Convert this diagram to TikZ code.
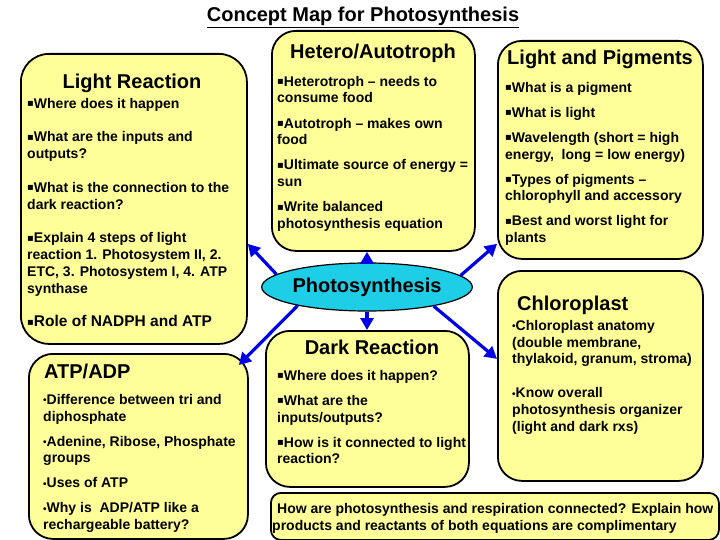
\documentclass[tikz,border=0pt]{standalone}
\usepackage{fontspec}
\setmainfont{Liberation Sans}
\newfontfamily\dvs{DejaVu Sans}
\usetikzlibrary{arrows.meta,shapes.geometric,calc}
\definecolor{boxyellow}{RGB}{255,255,153}
\definecolor{pscyan}{RGB}{30,205,230}
\definecolor{arrblue}{RGB}{0,0,230}
\newcommand\sqb{\raisebox{1.3pt}{\dvs\fontsize{10}{10}\selectfont ▪}}
\newcommand\dtb{\raisebox{0.3pt}{\fontsize{10}{10}\selectfont •}}
\tikzset{
  cbox/.style={draw=black, line width=1.8pt, fill=boxyellow, rounded corners=24pt, anchor=north west, inner sep=0pt},
  headtxt/.style={font=\bfseries\fontsize{20}{24}\selectfont, inner sep=0pt, anchor=base},
  bodytxt/.style={font=\bfseries\fontsize{14}{16.8}\selectfont, inner sep=0pt, anchor=north west, align=left},
  arr/.style={draw=arrblue, line width=3.2pt, -{Triangle[length=12pt,width=13pt]}}
}
\begin{document}
\begin{tikzpicture}[x=1pt,y=-1pt]
\useasboundingbox (0,0) rectangle (720,540);

% title
\node[inner sep=0pt, anchor=base, font=\bfseries\fontsize{20}{23}\selectfont] (title) at (363,22) {\underline{Concept Map for Photosynthesis}};

% boxes
\node[cbox, rounded corners=28pt, minimum width=226pt, minimum height=290pt] (lr) at (20,53) {};
\node[cbox, minimum width=203pt, minimum height=220pt] (ht) at (271,30) {};
\node[cbox, minimum width=205pt, minimum height=218pt] (lp) at (497,40) {};
\node[cbox, minimum width=205pt, minimum height=210pt] (ch) at (497,270) {};
\node[cbox, minimum width=219pt, minimum height=185pt] (atp) at (28,353) {};
\node[cbox, minimum width=203pt, minimum height=156pt] (dr) at (265,330) {};
\node[cbox, rounded corners=10pt, minimum width=448pt, minimum height=47pt] (q) at (270,492) {};

% Light Reaction
\node[headtxt] (lrh) at (132,89) {Light Reaction};
\node[bodytxt] (lrb) at (27,96.24) {\strut\sqb Where does it happen\\[16.8pt]
\sqb What are the inputs and\\ outputs?\\[16.8pt]
\sqb What is the connection to the\\ dark reaction?\\[16.8pt]
\sqb Explain 4 steps of light\\ reaction 1. Photosystem II, 2.\\ ETC, 3. Photosystem I, 4. ATP\\ synthase\\[16.8pt]
{\fontsize{15.5}{18}\selectfont\sqb Role of NADPH and ATP}};

% Hetero/Autotroph
\node[headtxt] (hth) at (373,59) {Hetero/Autotroph};
\node[bodytxt] (htb) at (277,74.24) {\strut\sqb Heterotroph – needs to\\ consume food\\[8.2pt]
\sqb Autotroph – makes own\\ food\\[8.2pt]
\sqb Ultimate source of energy =\\ sun\\[8.2pt]
\sqb Write balanced\\ photosynthesis equation};

% Light and Pigments
\node[headtxt] (lph) at (600,65) {Light and Pigments};
\node[bodytxt] (lpb) at (505,80.24) {\strut\sqb What is a pigment\\[8.2pt]
\sqb What is light\\[8.2pt]
\sqb Wavelength (short = high\\ energy,\ \ long = low energy)\\[8.2pt]
\sqb Types of pigments –\\ chlorophyll and accessory\\[8.2pt]
\sqb Best and worst light for\\ plants};

% Chloroplast
\node[headtxt, anchor=base west] (chh) at (517,310) {Chloroplast};
\node[bodytxt] (chb) at (512,318.24) {\strut\dtb Chloroplast anatomy\\ (double membrane,\\ thylakoid, granum, stroma)\\[16.8pt]
\dtb Know overall\\ photosynthesis organizer\\ (light and dark rxs)};

% ATP/ADP
\node[headtxt, anchor=base west] (atph) at (44,378) {ATP/ADP};
\node[bodytxt] (atpb) at (43,392.24) {\strut\dtb Difference between tri and\\ diphosphate\\[8.2pt]
\dtb Adenine, Ribose, Phosphate\\ groups\\[8.2pt]
\dtb Uses of ATP\\[8.2pt]
\dtb Why is\ \ ADP/ATP like a\\ rechargeable battery?};

% Dark Reaction
\node[headtxt] (drh) at (372,354) {Dark Reaction};
\node[bodytxt] (drb) at (277,368.24) {\strut\sqb Where does it happen?\\[8.2pt]
\sqb What are the\\ inputs/outputs?\\[8.2pt]
\sqb How is it connected to light\\ reaction?};

% question
\node[bodytxt] (qb) at (272,501.24) {\strut\hspace*{5pt}How are photosynthesis and respiration connected? Explain how\\ products and reactants of both equations are complimentary};

% centre
\node[ellipse, draw=black, line width=1.2pt, fill=pscyan, minimum width=199pt, minimum height=48pt, inner sep=0pt, font=\bfseries\fontsize{20}{24}\selectfont] (ps) at (367,287) {Photosynthesis};

% arrows
\draw[arr] (ps.172) -- ([yshift=-45pt]lr.east);
\draw[arr] (ps.north) -- (ps.north |- ht.south);
\draw[arr] (ps.7) -- ([yshift=16pt]lp.south west);
\draw[arr] (ps.-16) -- ([yshift=17pt]ch.west);
\draw[arr] (ps.south) -- (ps.south |- dr.north);
\draw[arr] (ps.195) -- ([xshift=-10pt,yshift=-12pt]atp.north east);
\end{tikzpicture}
\end{document}
